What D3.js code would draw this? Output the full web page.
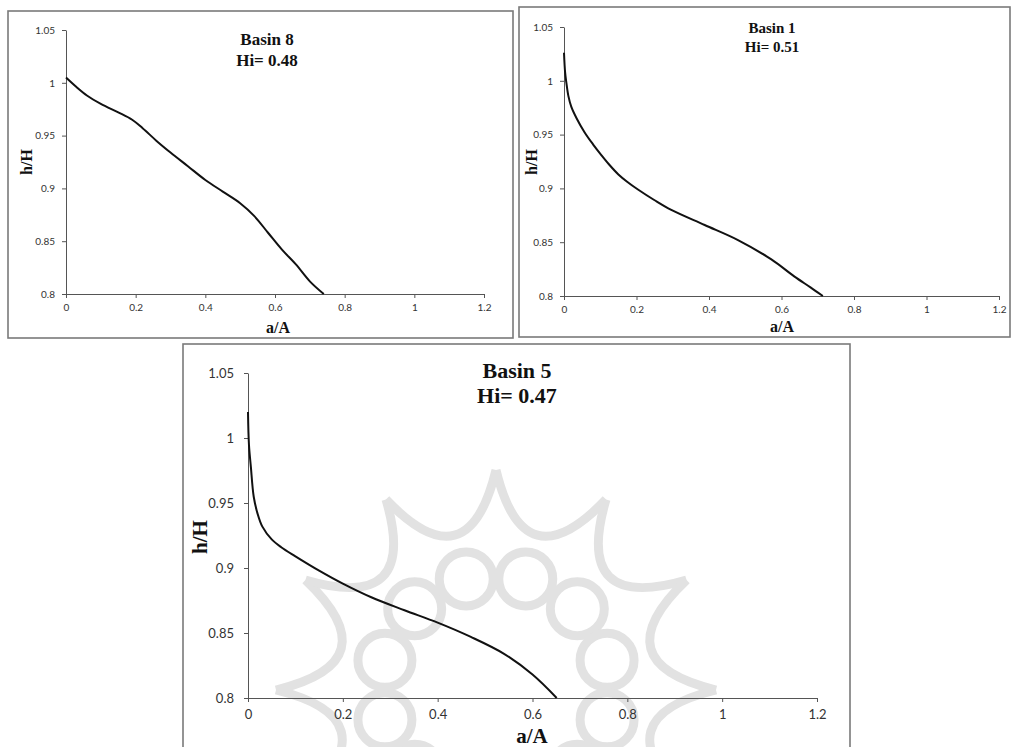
<!DOCTYPE html>
<html>
<head>
<meta charset="utf-8">
<script src="https://cdn.jsdelivr.net/npm/d3@7"></script>
<style>
  body { margin: 0; background: #fff; }
  svg { display: block; }
  .tick text { font-family: Lato, "Open Sans", sans-serif; fill: #333; }
  .domain, .tick line { stroke: #555; }
</style>
</head>
<body>
<svg width="1011" height="747"></svg>
<script>
// hypsometric curves
const basin8X = [0, 0.03, 0.06, 0.1, 0.15, 0.19, 0.22, 0.26, 0.3, 0.35, 0.4, 0.45, 0.5, 0.54, 0.58, 0.62, 0.66, 0.7, 0.74]
const basin8Y = [1.005, 0.996, 0.988, 0.98, 0.972, 0.965, 0.957, 0.945, 0.934, 0.921, 0.908, 0.897, 0.886, 0.874, 0.858, 0.842, 0.828, 0.812, 0.8]

const basin1X = [0, 0.003, 0.0066, 0.012, 0.02, 0.035, 0.057, 0.08, 0.103, 0.125, 0.15, 0.175, 0.204, 0.25, 0.296, 0.388, 0.48, 0.572, 0.636, 0.68, 0.714]
const basin1Y = [1.026, 1.008, 0.998, 0.986, 0.976, 0.965, 0.952, 0.941, 0.931, 0.922, 0.913, 0.906, 0.899, 0.889, 0.88, 0.866, 0.852, 0.834, 0.818, 0.808, 0.8]

const basin5X = [0, 0.002, 0.006, 0.012, 0.02, 0.03, 0.05, 0.07, 0.1, 0.15, 0.2, 0.26, 0.33, 0.4, 0.47, 0.54, 0.6, 0.651]
const basin5Y = [1.02, 0.995, 0.978, 0.955, 0.942, 0.932, 0.922, 0.916, 0.909, 0.898, 0.888, 0.8775, 0.8675, 0.858, 0.847, 0.834, 0.818, 0.8]

const xTicks = [0, 0.2, 0.4, 0.6, 0.8, 1, 1.2]
const yTicks = [0.8, 0.85, 0.9, 0.95, 1, 1.05]

const serif = "'Liberation Serif', 'Times New Roman', Times, serif"
const svg = d3.select("svg")

const panels = [
  { name: "Basin 8", hi: "Hi= 0.48", xs: basin8X, ys: basin8Y,
    frame: [8, 11, 505, 327], plot: [66, 484, 30, 294],
    tick: 10, ttl: 17, axTtl: 16, title: [267, 45, 66], xT: [278, 333], yT: [26, 162] },
  { name: "Basin 1", hi: "Hi= 0.51", xs: basin1X, ys: basin1Y,
    frame: [519, 7, 491, 330], plot: [564, 999, 27, 296],
    tick: 10, ttl: 15, axTtl: 16, title: [772, 33, 52], xT: [782, 332], yT: [531, 162] },
  { name: "Basin 5", hi: "Hi= 0.47", xs: basin5X, ys: basin5Y,
    frame: [183, 344, 667, 420], plot: [248, 817, 373, 698],
    tick: 13, ttl: 22, axTtl: 21, title: [517, 378, 403], xT: [532, 743], yT: [200, 537], mark: true }
]

// faint logo watermark behind the bottom panel
function watermark(g, cx, cy) {
  const wm = g.append("g").attr("fill", "none").attr("stroke", "#e2e2e2").attr("stroke-width", 9)
  const R = 220, n = 12
  const pt = (r, a) => [cx + r * Math.sin(a), cy - r * Math.cos(a)]
  for (let i = 0; i < n; i++) {
    const a0 = i * 2 * Math.PI / n, a1 = (i + 1) * 2 * Math.PI / n
    const p0 = pt(R, a0), p1 = pt(R, a1), c = pt(108, (a0 + a1) / 2)
    wm.append("path").attr("d", `M${p0}Q${c} ${p1}`)
    const cc = pt(115, (a0 + a1) / 2)
    wm.append("circle").attr("cx", cc[0]).attr("cy", cc[1]).attr("r", 27)
  }
}

panels.forEach((p, i) => {
  const g = svg.append("g")
  const [fx, fy, fw, fh] = p.frame
  g.append("rect").attr("x", fx).attr("y", fy).attr("width", fw).attr("height", fh)
    .attr("fill", "#fff").attr("stroke", "#7a7a7a").attr("stroke-width", 1.6)

  if (p.mark) {
    svg.append("clipPath").attr("id", "clip" + i)
      .append("rect").attr("x", fx).attr("y", fy).attr("width", fw).attr("height", fh)
    watermark(g.append("g").attr("clip-path", `url(#clip${i})`), 496, 690)
  }

  const x = d3.scaleLinear().domain([0, 1.2]).range([p.plot[0], p.plot[1]])
  const y = d3.scaleLinear().domain([0.8, 1.05]).range([p.plot[3], p.plot[2]])

  g.append("g").attr("transform", `translate(0,${p.plot[3]})`)
    .call(d3.axisBottom(x).tickValues(xTicks).tickSize(4).tickSizeOuter(0).tickPadding(p.tick > 11 ? 8 : 6)
      .tickFormat(d3.format("")))
    .call(a => a.selectAll("text").style("font-size", p.tick + "px"))
  g.append("g").attr("transform", `translate(${p.plot[0]},0)`)
    .call(d3.axisLeft(y).tickValues(yTicks).tickSize(4).tickSizeOuter(0).tickPadding(p.tick > 11 ? 10 : 7)
      .tickFormat(d3.format("")))
    .call(a => a.selectAll("text").style("font-size", p.tick + "px"))

  const line = d3.line().x(d => x(d[0])).y(d => y(d[1])).curve(d3.curveCatmullRom.alpha(0.5))
  g.append("path").datum(d3.zip(p.xs, p.ys))
    .attr("d", line).attr("fill", "none").attr("stroke", "#111").attr("stroke-width", 2)

  const txt = (s, tx, ty, size) => g.append("text")
    .attr("x", tx).attr("y", ty).attr("text-anchor", "middle")
    .attr("font-family", serif).attr("font-weight", "bold").attr("fill", "#111")
    .attr("font-size", size).text(s)

  txt(p.name, p.title[0], p.title[1], p.ttl)
  txt(p.hi, p.title[0], p.title[2], p.ttl)
  txt("a/A", p.xT[0], p.xT[1], p.axTtl)
  txt("h/H", 0, 0, p.axTtl).attr("dy", "0.35em")
    .attr("transform", `translate(${p.yT[0]},${p.yT[1]}) rotate(-90)`)
})
</script>
</body>
</html>
